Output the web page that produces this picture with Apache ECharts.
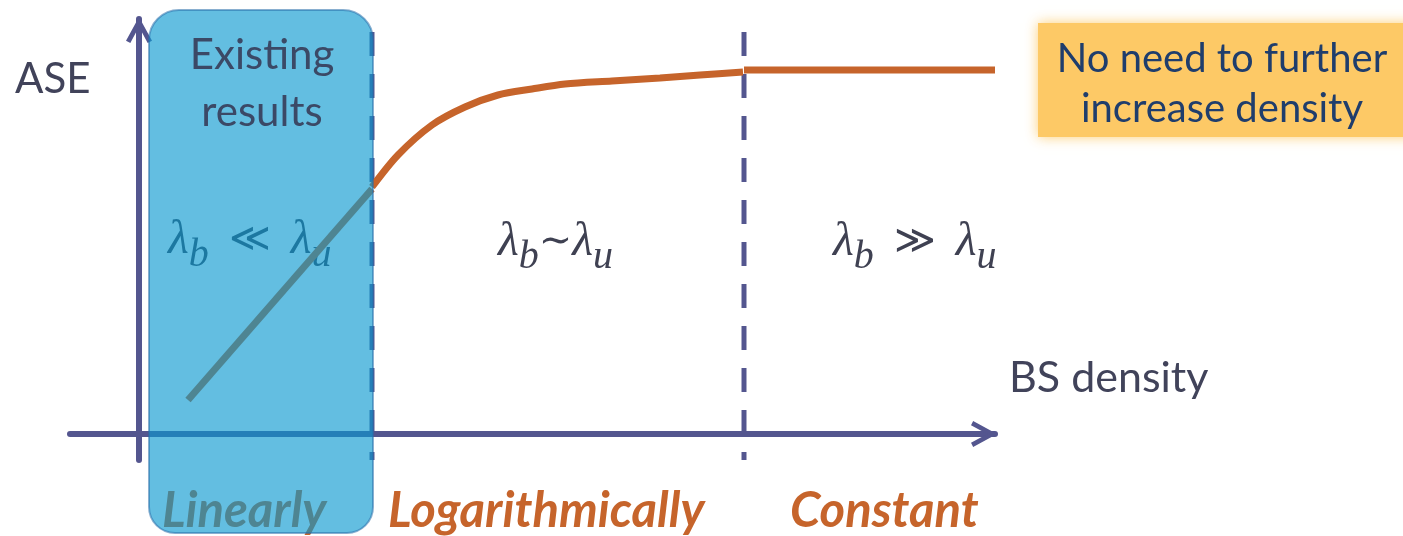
<!DOCTYPE html>
<html>
<head>
<meta charset="utf-8">
<script src="https://cdn.jsdelivr.net/npm/echarts@6/dist/echarts.min.js"></script>
<style>
  html, body { margin: 0; padding: 0; background: #fff; }
  #chart { width: 1403px; height: 536px; }
</style>
</head>
<body>
<div id="chart"></div>
<script>
// linear part (inside the "existing results" box)
const linearX = [0.49, 2.33];
const linearY = [0.34, 2.45];
// logarithmic part
const logX = [2.33, 2.59, 2.93, 3.26, 3.59, 3.93, 4.26, 4.73, 5.21, 5.61, 6.04];
const logY = [2.47, 2.79, 3.09, 3.27, 3.39, 3.45, 3.50, 3.53, 3.56, 3.59, 3.62];
// constant part
const constX = [6.05, 8.56];
const constY = [3.64, 3.64];
// dashed region borders
const borderX = [2.33, 6.05];
const borderY = [4.02, -0.26];
// existing results box: x from, x to, y top, y bottom
const boxRange = [0.10, 2.34, 4.24, -0.99];
const regionNames = ['Linearly', 'Logarithmically', 'Constant'];

const pairs = (xs, ys) => xs.map((x, i) => [x, ys[i]]);

const axisColor = '#54568F';
const orange = '#C6642B';
const arrow = 'path://M12,0 L24,22 L20,24 L12,9 L4,24 L0,22 Z';
const sans = 'Lato, "Open Sans", sans-serif';
const serif = '"Liberation Serif", "DejaVu Serif", serif';

const lambdaRich = {
  m: { fontFamily: serif, fontStyle: 'italic', fontSize: 48 },
  o: { fontFamily: serif, fontSize: 40 },
  s: { fontFamily: serif, fontStyle: 'italic', fontSize: 40, padding: [30, 0, 0, 0] }
};

function axisOpt(min, max) {
  return {
    type: 'value',
    min: min,
    max: max,
    axisLine: {
      onZero: true,
      symbol: ['none', arrow],
      symbolSize: [26, 26],
      symbolOffset: [0, -11],
      lineStyle: { color: axisColor, width: 6 }
    },
    axisTick: { show: false },
    axisLabel: { show: false },
    splitLine: { show: false }
  };
}

const chart = echarts.init(document.getElementById('chart'));

const option = {
  backgroundColor: '#fff',
  animation: false,
  grid: { left: 70, right: 408, top: 19, bottom: 76 },
  xAxis: axisOpt(-0.69, 8.56),
  yAxis: axisOpt(-0.26, 4.15),
  graphic: [
    {
      type: 'rect', z: 1,
      shape: { x: 1038, y: 23, width: 380, height: 114 },
      style: { fill: '#FDC966', shadowBlur: 12, shadowColor: 'rgba(253,201,102,0.9)' }
    },
    {
      type: 'text', z: 2,
      style: { text: 'No need to further\nincrease density', x: 1222, y: 84, textAlign: 'center', textVerticalAlign: 'middle',
        font: '40px ' + sans, lineHeight: 50, fill: '#1F3D6C' }
    },
    {
      type: 'text', z: 2,
      style: { text: 'ASE', x: 15, y: 79, textVerticalAlign: 'middle', font: '42px ' + sans, fill: '#41435A' }
    },
    {
      type: 'text', z: 2,
      style: { text: 'BS density', x: 1009, y: 378, textVerticalAlign: 'middle', font: '43px ' + sans, fill: '#41435A' }
    },
    {
      type: 'text', z: 10,
      style: { text: 'Existing\nresults', x: 262, y: 84, textAlign: 'center', textVerticalAlign: 'middle',
        font: '42px ' + sans, lineHeight: 57, fill: '#3B4966' }
    },
    {
      type: 'text', z: 2,
      style: { text: '{m|λ}{s|b}{o|  ≪  }{m|λ}{s|u}', x: 168, y: 240, textVerticalAlign: 'middle', rich: lambdaRich, fill: '#3F4152' }
    },
    {
      type: 'text', z: 2,
      style: { text: '{m|λ}{s|b}{o|∼}{m|λ}{s|u}', x: 498, y: 242, textVerticalAlign: 'middle', rich: lambdaRich, fill: '#3F4152' }
    },
    {
      type: 'text', z: 2,
      style: { text: '{m|λ}{s|b}{o|  ≫  }{m|λ}{s|u}', x: 833, y: 242, textVerticalAlign: 'middle', rich: lambdaRich, fill: '#3F4152' }
    },
    {
      type: 'text', z: 2,
      style: { text: regionNames[0], x: 162, y: 511, textVerticalAlign: 'middle', font: 'italic bold 49px ' + sans, fill: orange }
    },
    {
      type: 'text', z: 2,
      style: { text: regionNames[1], x: 388, y: 511, textVerticalAlign: 'middle', font: 'italic bold 49px ' + sans, fill: orange }
    },
    {
      type: 'text', z: 2,
      style: { text: regionNames[2], x: 790, y: 511, textVerticalAlign: 'middle', font: 'italic bold 49px ' + sans, fill: orange }
    }
  ],
  series: [
    ...borderX.map(bx => ({
      type: 'line',
      z: 2,
      symbol: 'none',
      data: [[bx, borderY[0]], [bx, borderY[1]]],
      lineStyle: { color: axisColor, width: 5, type: [24, 18] }
    })),
    {
      type: 'line', z: 3, symbol: 'none',
      data: pairs(linearX, linearY),
      lineStyle: { color: orange, width: 7 }
    },
    {
      type: 'line', z: 3, symbol: 'none', smooth: 0.3,
      data: pairs(logX, logY),
      lineStyle: { color: orange, width: 7 }
    },
    {
      type: 'line', z: 3, symbol: 'none',
      data: pairs(constX, constY),
      lineStyle: { color: orange, width: 7 }
    },
    {
      // semi-transparent "Existing results" box on top of curve and labels
      type: 'custom',
      z: 5,
      clip: false,
      encode: { x: [0, 1], y: [2, 3] },
      data: [boxRange],
      renderItem: function (params, api) {
        const p0 = api.coord([api.value(0), api.value(2)]);
        const p1 = api.coord([api.value(1), api.value(3)]);
        return {
          type: 'rect',
          shape: { x: p0[0], y: p0[1], width: p1[0] - p0[0], height: p1[1] - p0[1], r: [30, 30, 26, 26] },
          style: { fill: 'rgba(8,152,208,0.63)', stroke: 'rgba(40,110,170,0.55)', lineWidth: 2 }
        };
      }
    }
  ]
};

chart.setOption(option);
</script>
</body>
</html>
